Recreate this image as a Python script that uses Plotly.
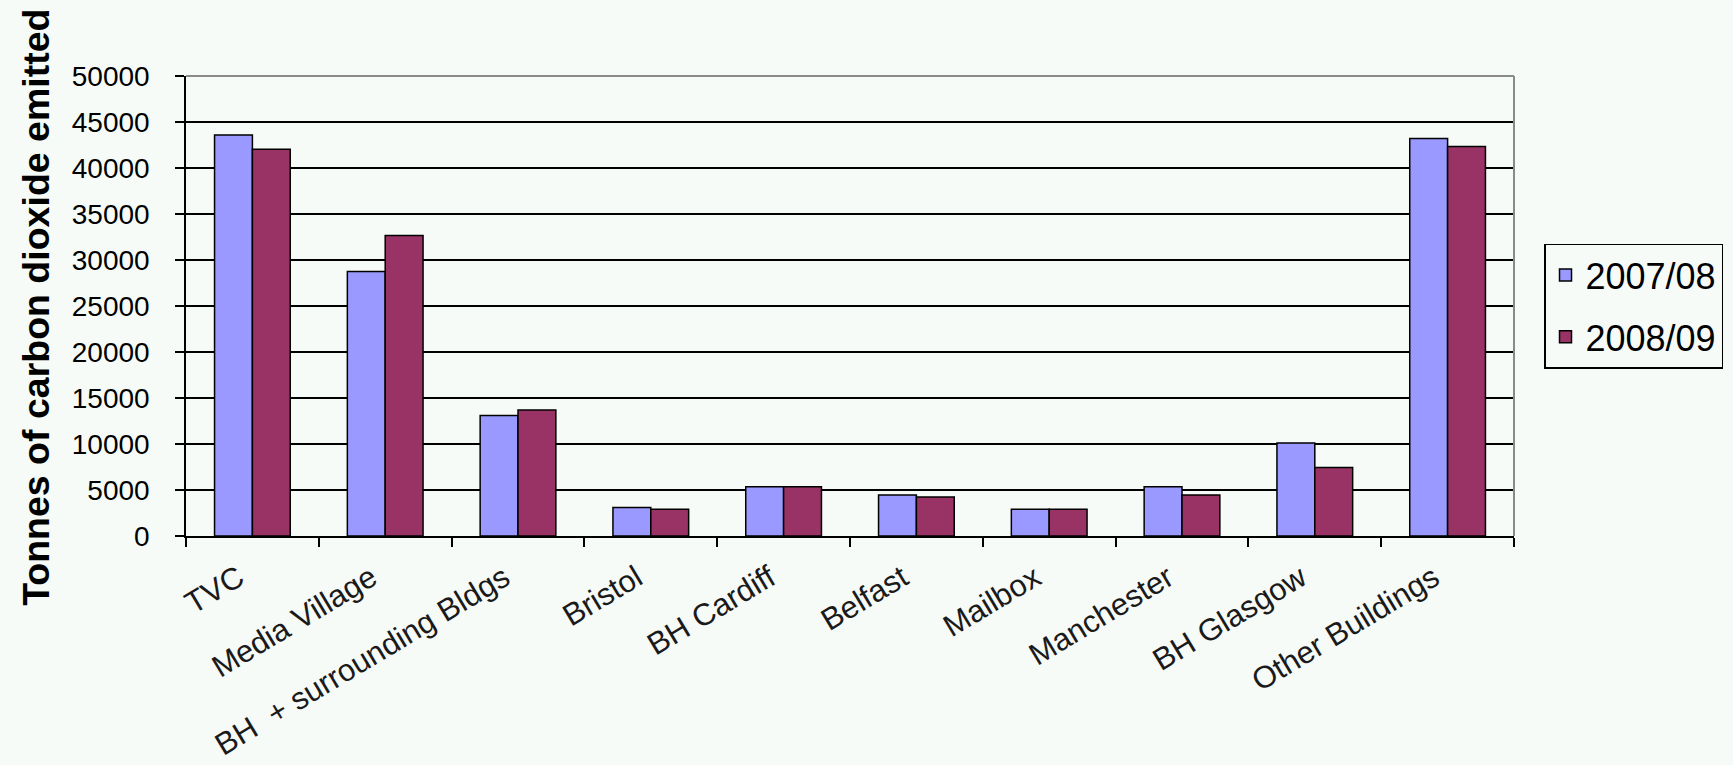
import plotly.graph_objects as go

categories = ["TVC", "Media Village", "BH  + surrounding Bldgs", "Bristol", "BH Cardiff",
              "Belfast", "Mailbox", "Manchester", "BH Glasgow", "Other Buildings"]
series_names = ["2007/08", "2008/09"]
values_2007_08 = [43600, 28750, 13100, 3100, 5350, 4450, 2900, 5350, 10100, 43200]
values_2008_09 = [42050, 32650, 13700, 2900, 5350, 4250, 2900, 4450, 7450, 42350]
y_ticks = [0, 5000, 10000, 15000, 20000, 25000, 30000, 35000, 40000, 45000, 50000]
y_title = "Tonnes of carbon dioxide emitted"

BG = "#F7FBF7"
FONT = "Liberation Sans, Arial, sans-serif"

fig = go.Figure()
fig.add_trace(go.Bar(x=categories, y=values_2007_08, name=series_names[0], legendgroup="a",
                     marker=dict(color="#9999FF", line=dict(color="#000000", width=1.5))))
fig.add_trace(go.Bar(x=categories, y=values_2008_09, name=series_names[1], legendgroup="b",
                     marker=dict(color="#993366", line=dict(color="#000000", width=1.5))))

fig.update_layout(
    width=1733, height=765,
    paper_bgcolor=BG, plot_bgcolor=BG,
    barmode="group", bargap=0.43, bargroupgap=0,
    margin=dict(l=186, r=219, t=76, b=229, autoexpand=False),
    font=dict(family=FONT, color="#000000"),
    legend=dict(x=1.0226, y=0.5, xanchor="left", yanchor="middle",
                bgcolor=BG, bordercolor="#000000", borderwidth=1.5,
                font=dict(size=36, family=FONT, color="#000000"),
                tracegroupgap=12),
    xaxis=dict(
        automargin=False,
        showline=True, linecolor="#000000", linewidth=1.5,
        ticks="outside", ticklen=9, tickwidth=1.5, tickcolor="#000000",
        tickson="boundaries", tickangle=-31, ticklabelstandoff=10, ticklabelshift=-14,
        tickfont=dict(size=31, family=FONT, color="#1a1a1a"),
        showgrid=False, mirror=False,
    ),
    yaxis=dict(
        automargin=False,
        range=[0, 50000], tickvals=y_ticks, ticktext=[str(v) for v in y_ticks],
        showline=True, linecolor="#000000", linewidth=1.5,
        ticks="outside", ticklen=9, tickwidth=1.5, tickcolor="#000000",
        ticklabelstandoff=20,
        showgrid=True, gridcolor="#000000", gridwidth=1.5,
        tickfont=dict(size=28, family=FONT, color="#000000"),
        zeroline=False,
    ),
    annotations=[
        dict(text="<b>" + y_title + "</b>", textangle=-90, showarrow=False,
             xref="paper", yref="paper", x=-0.113, y=0.498,
             xanchor="center", yanchor="middle",
             font=dict(size=37.5, family=FONT, color="#000000")),
    ],
    shapes=[
        dict(type="line", xref="x domain", yref="y domain", x0=0, x1=1, y0=1, y1=1,
             line=dict(color="#8a8a8a", width=2), layer="above"),
        dict(type="line", xref="x domain", yref="y domain", x0=1, x1=1, y0=0, y1=1,
             line=dict(color="#8a8a8a", width=2), layer="above"),
    ],
)

fig.write_html("out.html", config={"displayModeBar": False},
               post_script="document.body.style.margin='0';")
